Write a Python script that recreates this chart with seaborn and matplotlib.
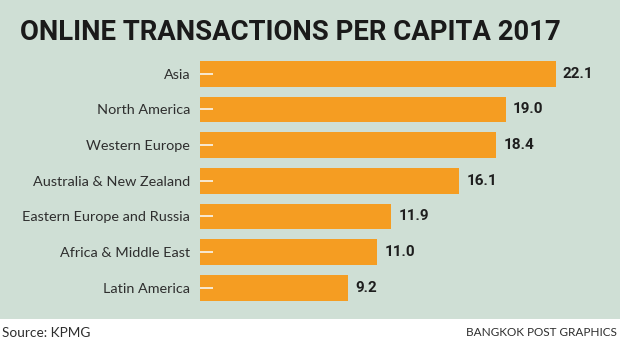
import matplotlib
matplotlib.use("Agg")
import matplotlib.pyplot as plt
import seaborn as sns
import pandas as pd
from matplotlib.patches import Rectangle

regions = [
    "Asia",
    "North America",
    "Western Europe",
    "Australia & New Zealand",
    "Eastern Europe and Russia",
    "Africa & Middle East",
    "Latin America",
]
transactions = [22.1, 19.0, 18.4, 16.1, 11.9, 11.0, 9.2]
value_labels = ["22.1", "19.0", "18.4", "16.1", "11.9", "11.0", "9.2"]

title = "ONLINE TRANSACTIONS PER CAPITA 2017"
source = "Source: KPMG"
credit = "BANGKOK POST GRAPHICS"

BG = "#cfdfd5"
BAR = "#f59d22"

sns.set_theme(style="white")

df = pd.DataFrame({"region": regions, "value": transactions})

fig = plt.figure(figsize=(6.2, 3.44), dpi=100)
fig.patch.set_facecolor("white")
# green panel behind the chart, white strip for the footer
fig.patches.append(Rectangle((0, 25 / 344), 1, 1 - 25 / 344, transform=fig.transFigure,
                             facecolor=BG, edgecolor="none", zorder=-1))

ax = fig.add_axes([200 / 620, 1 - 305.5 / 344, 420 / 620, 249.5 / 344])
ax.set_facecolor("none")
ax.set_zorder(1)

sns.barplot(data=df, x="value", y="region", order=regions, color=BAR,
            saturation=1, width=0.72, linewidth=0, ax=ax)

ax.set_xlim(0, 26.1)
ax.set_ylim(6.5, -0.5)
ax.set_xlabel("")
ax.set_ylabel("")
ax.set_xticks([])
ax.set_axisbelow(False)
for s in ax.spines.values():
    s.set_visible(False)

# short light dashes drawn on top of each bar's left end
ax.tick_params(axis="y", direction="in", length=9, width=1.4, color="#f8ead2",
               pad=7, labelsize=10.4, labelcolor="#2e2e2e", left=True)
for lab in ax.get_yticklabels():
    lab.set_fontfamily("Lato")

for bar, txt in zip(ax.patches, value_labels):
    ax.text(bar.get_width() + 0.45, bar.get_y() + bar.get_height() / 2, txt,
            va="center", ha="left", fontsize=11, fontweight="bold",
            family="Roboto", color="#1e1e1e")

fig.text(20 / 620, 1 - 32 / 344, title, ha="left", va="center", fontsize=19.8,
         fontweight="bold", family="Roboto", color="#1a1a1a")
fig.text(2 / 620, 1 - 333 / 344, source, ha="left", va="center", fontsize=9.8,
         family="Lato", color="#2e2e2e")
fig.text(617 / 620, 1 - 333 / 344, credit, ha="right", va="center", fontsize=8.5,
         family="Lato", color="#2e2e2e")

fig.savefig("out.png", dpi=100, facecolor=fig.get_facecolor())
